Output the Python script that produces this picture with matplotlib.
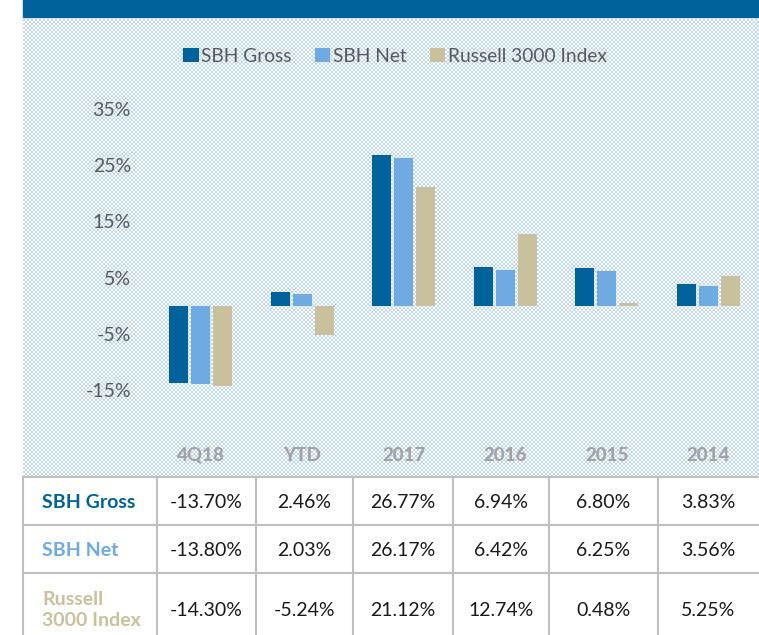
import matplotlib.pyplot as plt
import numpy as np
from matplotlib.patches import Rectangle
from matplotlib.lines import Line2D

periods = ['4Q18', 'YTD', '2017', '2016', '2015', '2014']
sbh_gross = [-13.70, 2.46, 26.77, 6.94, 6.80, 3.83]
sbh_net = [-13.80, 2.03, 26.17, 6.42, 6.25, 3.56]
russell = [-14.30, -5.24, 21.12, 12.74, 0.48, 5.25]
series_names = ['SBH Gross', 'SBH Net', 'Russell 3000 Index']
row_labels = ['SBH Gross', 'SBH Net', 'Russell\n3000 Index']
yticks = [-15, -5, 5, 15, 25, 35]

colors = ['#00629B', '#6FAAE3', '#C9C19C']
plt.rcParams['font.family'] = ['Lato', 'DejaVu Sans']

W, H = 759, 635
fig = plt.figure(figsize=(W / 100, H / 100), dpi=100)

# dotted background (pixel pattern)
bw, bh = 736, 458
yy, xx = np.mgrid[0:bh, 0:bw]
dots = ((xx % 4) < 2) == ((yy % 4) < 2)
bg = np.ones((bh, bw, 3))
bg[dots] = np.array([190, 216, 243]) / 255
fig.figimage(bg, xo=23, yo=H - 477, origin='upper', zorder=-5)

# bar chart
ax = fig.add_axes([140 / W, (H - 440) / H, (W - 140) / W, 360 / H])
ax.set_zorder(2)
ax.patch.set_visible(False)
x = np.arange(len(periods))
wd = 0.187
for i, (vals, c) in enumerate(zip([sbh_gross, sbh_net, russell], colors)):
    ax.bar(x + (i - 1) * 0.217, vals, wd, color=c, label=series_names[i])
ax.set_xlim(-0.60, 5.50)
ax.set_ylim(-23.8, 40.1)
ax.set_yticks(yticks, labels=[f'{v}%' for v in yticks])
ax.set_xticks([])
ax.tick_params(axis='y', length=0, pad=6.5, labelsize=14, labelcolor='#595959')
for xi, p in zip(x, periods):
    ax.annotate(p, xy=(xi, 0), xycoords=('data', 'axes fraction'), xytext=(0, -5),
                textcoords='offset points', ha='center', va='top', fontsize=13.5,
                fontweight='black', color='#A3A3A3')
for s in ax.spines.values():
    s.set_visible(False)

fig.legend(loc='center', bbox_to_anchor=(395 / W, 1 - 56 / H), ncol=3, frameon=False,
           fontsize=13.8, labelcolor='#595959', handlelength=0.8, handleheight=0.8,
           handletextpad=0.15, columnspacing=1.2)

# header bar and table, in pixel coordinates
tax = fig.add_axes([0, 0, 1, 1])
tax.set_zorder(3)
tax.set_xlim(0, W)
tax.set_ylim(H, 0)
tax.axis('off')
tax.patch.set_visible(False)
tax.add_patch(Rectangle((23, 0), W - 23, 17, color='#00629B'))

col_edges = [23, 157, 256, 353, 453, 549, 658, W]
row_edges = [477, 525, 573, H]
lc = '#BFBFBF'
for yv in row_edges[:-1]:
    tax.add_line(Line2D([23, W], [yv, yv], color=lc, lw=1.5))
for xv in col_edges[:-1]:
    tax.add_line(Line2D([xv, xv], [477, H], color=lc, lw=1.5))

row_y = [502, 550, 610]
for r, (lab, vals, c) in enumerate(zip(row_labels, [sbh_gross, sbh_net, russell], colors)):
    yc = row_y[r]
    tax.text(42, yc, lab, ha='left', va='center', fontsize=14, fontweight='bold',
             color=c, linespacing=1.3)
    for j, v in enumerate(vals):
        xc = (col_edges[j + 1] + col_edges[j + 2]) / 2
        tax.text(xc, yc, f'{v:.2f}%', ha='center', va='center', fontsize=14, color='#1A1A1A')

fig.savefig('out.png', dpi=100)
